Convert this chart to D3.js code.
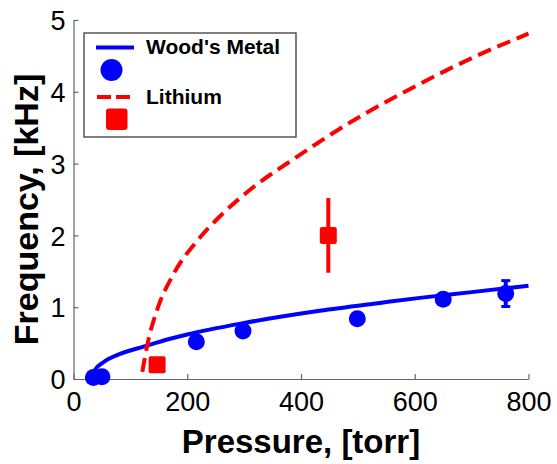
<!DOCTYPE html>
<html>
<head>
<meta charset="utf-8">
<script src="https://cdn.jsdelivr.net/npm/d3@7/dist/d3.min.js"></script>
<style>
  html, body { margin: 0; padding: 0; background: #fff; }
  svg { display: block; font-family: "Liberation Sans", Arial, sans-serif; }
</style>
</head>
<body>
<div id="chart"></div>
<script>
// axis ticks
const xTicks = [0, 200, 400, 600, 800];
const yTicks = [0, 1, 2, 3, 4, 5];

// Wood's Metal measurements
const woodP = [35, 50, 216, 298, 499, 650, 760];
const woodF = [0.02, 0.03, 0.52, 0.67, 0.84, 1.11, 1.19];
const woodErr = [0, 0, 0, 0.04, 0, 0.06, 0.18];

// Wood's Metal model curve
const woodFitP = [32, 38, 52, 82, 123, 170, 200, 300, 433, 539, 609, 700, 800];
const woodFitF = [0.0, 0.13, 0.23, 0.35, 0.45, 0.56, 0.62, 0.78, 0.95, 1.06, 1.13, 1.21, 1.30];

// Lithium measurements
const lithP = [147, 448];
const lithF = [0.20, 2.0];
const lithErr = [0.05, 0.52];

// Lithium model curve
const lithFitP = [121, 131, 146, 175, 217, 258, 316, 392, 492, 609, 703, 800];
const lithFitF = [0.10, 0.52, 0.94, 1.45, 1.92, 2.27, 2.67, 3.09, 3.60, 4.11, 4.48, 4.81];

const W = 557, H = 464;
const blue = "#0000ff", red = "#ff0000";

const svg = d3.select("#chart").append("svg")
    .attr("width", W)
    .attr("height", H);

const x = d3.scaleLinear().domain([0, 800]).range([73.5, 528.5]);
const y = d3.scaleLinear().domain([0, 5]).range([379, 20]);

// axes (ticks pointing inward, no box)
const xAxis = svg.append("g")
    .attr("transform", `translate(0,${y(0)})`)
    .call(d3.axisBottom(x).tickValues(xTicks).tickFormat(d3.format("d"))
        .tickSize(-5).tickSizeOuter(0).tickPadding(13));
const yAxis = svg.append("g")
    .attr("transform", `translate(${x(0)},0)`)
    .call(d3.axisLeft(y).tickValues(yTicks).tickFormat(d3.format("d"))
        .tickSize(-5).tickSizeOuter(0).tickPadding(8));

[xAxis, yAxis].forEach(a => {
    a.select(".domain").attr("stroke", "#666").attr("stroke-width", 1.2);
    a.selectAll(".tick line").attr("stroke", "#666").attr("stroke-width", 1.2);
    a.selectAll(".tick text")
        .attr("fill", "#000")
        .style("font-size", "27px")
        .style("font-family", "Liberation Sans, Arial, sans-serif");
});
xAxis.selectAll(".tick text").attr("dy", "0.71em");
yAxis.selectAll(".tick text").attr("dy", "0.36em");

// axis titles
svg.append("text")
    .attr("x", (x(0) + x(800)) / 2)
    .attr("y", 453)
    .attr("text-anchor", "middle")
    .style("font-size", "33px")
    .style("font-weight", "bold")
    .text("Pressure, [torr]");

svg.append("text")
    .attr("transform", `translate(38,${(y(0) + y(5)) / 2 + 10}) rotate(-90)`)
    .attr("text-anchor", "middle")
    .style("font-size", "34px")
    .style("font-weight", "bold")
    .text("Frequency, [kHz]");

const line = d3.line()
    .x(d => x(d[0]))
    .y(d => y(d[1]))
    .curve(d3.curveMonotoneX);

// model curves
svg.append("path")
    .datum(woodFitP.map((p, i) => [p, woodFitF[i]]))
    .attr("d", line)
    .attr("fill", "none")
    .attr("stroke", blue)
    .attr("stroke-width", 4);

svg.append("path")
    .datum(lithFitP.map((p, i) => [p, lithFitF[i]]))
    .attr("d", line)
    .attr("fill", "none")
    .attr("stroke", red)
    .attr("stroke-width", 4)
    .attr("stroke-dasharray", "14,7");

// error bars + markers
function drawPoints(ps, fs, errs, color, shape, cap) {
    const g = svg.append("g");
    const pts = ps.map((p, i) => ({ p: p, f: fs[i], e: errs[i] }));
    const withErr = pts.filter(d => d.e > 0);

    g.selectAll("line.err").data(withErr).enter().append("line")
        .attr("x1", d => x(d.p)).attr("x2", d => x(d.p))
        .attr("y1", d => y(d.f - d.e)).attr("y2", d => y(d.f + d.e))
        .attr("stroke", color).attr("stroke-width", 4);

    if (cap > 0) {
        [-1, 1].forEach(s => {
            g.selectAll(null).data(withErr).enter().append("line")
                .attr("x1", d => x(d.p) - cap / 2).attr("x2", d => x(d.p) + cap / 2)
                .attr("y1", d => y(d.f + s * d.e)).attr("y2", d => y(d.f + s * d.e))
                .attr("stroke", color).attr("stroke-width", 3);
        });
    }

    if (shape === "circle") {
        g.selectAll("circle").data(pts).enter().append("circle")
            .attr("cx", d => x(d.p)).attr("cy", d => y(d.f))
            .attr("r", 8.5).attr("fill", color);
    } else {
        g.selectAll("rect").data(pts).enter().append("rect")
            .attr("x", d => x(d.p) - 8.5).attr("y", d => y(d.f) - 8.5)
            .attr("width", 17).attr("height", 17).attr("rx", 2)
            .attr("fill", color);
    }
}

drawPoints(woodP, woodF, woodErr, blue, "circle", 9);
drawPoints(lithP, lithF, lithErr, red, "square", 0);

// legend
const lg = svg.append("g");
lg.append("rect")
    .attr("x", 84).attr("y", 33).attr("width", 212).attr("height", 104)
    .attr("fill", "#fff").attr("stroke", "#555").attr("stroke-width", 1.5);

lg.append("line")
    .attr("x1", 96).attr("x2", 134).attr("y1", 47.5).attr("y2", 47.5)
    .attr("stroke", blue).attr("stroke-width", 4);
lg.append("circle")
    .attr("cx", 111.5).attr("cy", 70).attr("r", 11).attr("fill", blue);
lg.append("text")
    .attr("x", 146).attr("y", 54)
    .style("font-size", "21px").style("font-weight", "bold")
    .text("Wood's Metal");

lg.append("line")
    .attr("x1", 97).attr("x2", 134).attr("y1", 97).attr("y2", 97)
    .attr("stroke", red).attr("stroke-width", 4)
    .attr("stroke-dasharray", "14,5");
lg.append("rect")
    .attr("x", 106).attr("y", 108.5).attr("width", 21.5).attr("height", 21.5)
    .attr("rx", 3).attr("fill", red);
lg.append("text")
    .attr("x", 146).attr("y", 103.5)
    .style("font-size", "21px").style("font-weight", "bold")
    .text("Lithium");
</script>
</body>
</html>
